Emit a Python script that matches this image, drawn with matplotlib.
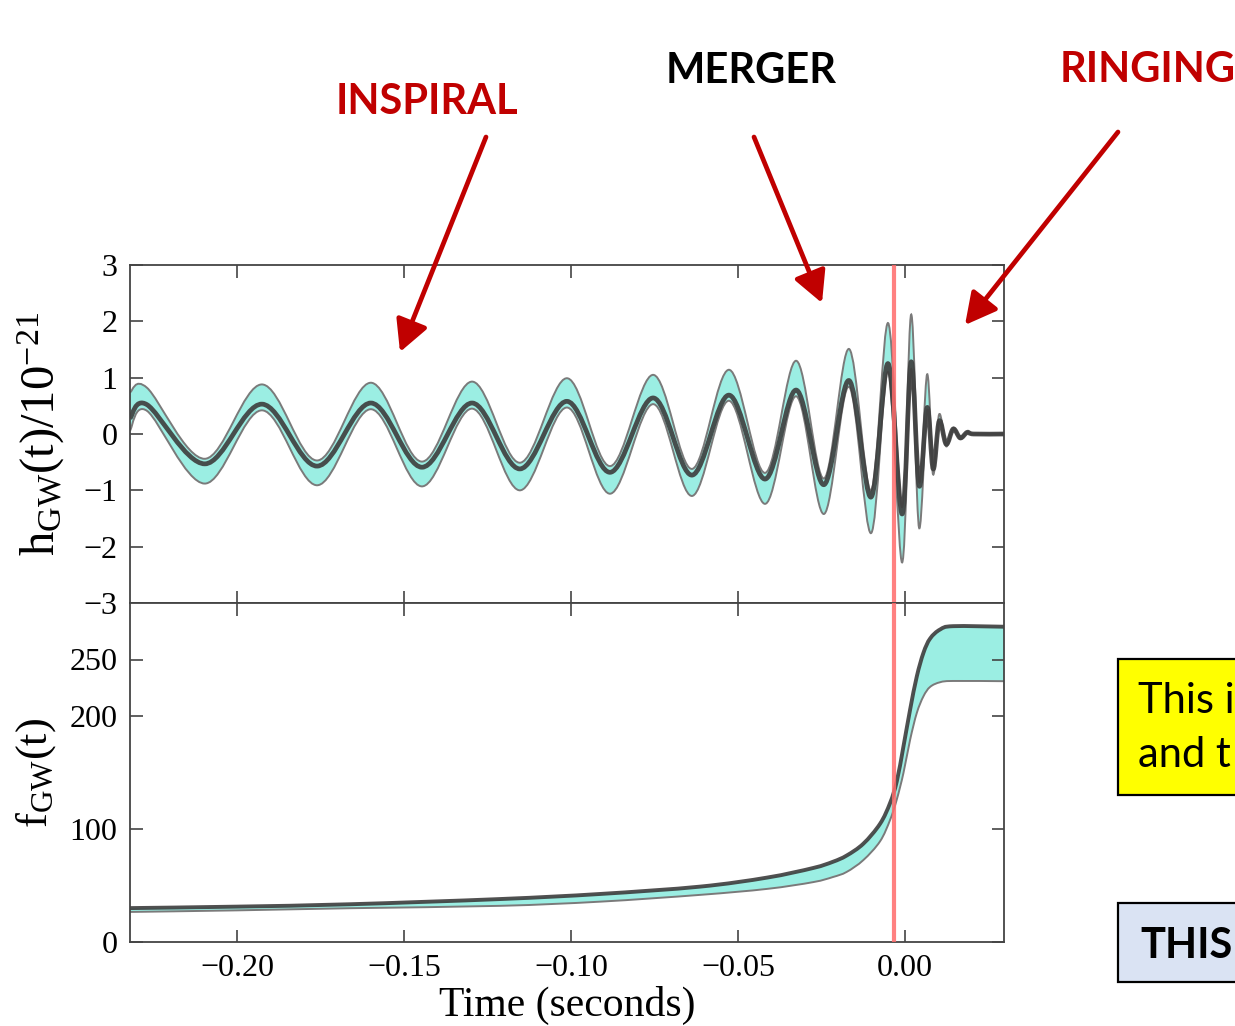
import matplotlib
matplotlib.use("Agg")
import matplotlib.pyplot as plt
from matplotlib.patches import FancyArrowPatch, Rectangle, PathPatch
from matplotlib.path import Path

plt.rcParams['font.family'] = ['Liberation Serif', 'DejaVu Serif']
plt.rcParams['mathtext.fontset'] = 'custom'
plt.rcParams['mathtext.rm'] = 'Liberation Serif'
plt.rcParams['mathtext.it'] = 'Liberation Serif:italic'

# strain h(t) / 1e-21: peaks and troughs
# (median line, lower and upper edge of the band)
t_h = [-0.2320, -0.2269, -0.2096, -0.1925, -0.1760, -0.1599, -0.1446, -0.1296, -0.1153, -0.1012,
       -0.0883, -0.0754, -0.0638, -0.0527, -0.0419, -0.0326, -0.0243, -0.0168, -0.0102, -0.0051,
       -0.0009, 0.0018, 0.0042, 0.0066, 0.0084, 0.0102, 0.0123, 0.0144, 0.0165, 0.0186,
       0.0205, 0.0296]
h_mid = [0.28, 0.52, -0.53, 0.53, -0.57, 0.55, -0.59, 0.55, -0.62, 0.58,
         -0.68, 0.64, -0.73, 0.69, -0.80, 0.78, -0.90, 0.95, -1.12, 1.25,
         -1.42, 1.28, -0.92, 0.47, -0.62, 0.23, -0.18, 0.09, -0.07, 0.03,
         0.00, 0.00]
h_lo = [0.06, 0.41, -0.88, 0.42, -0.91, 0.44, -0.93, 0.45, -1.00, 0.47,
        -1.06, 0.53, -1.10, 0.59, -1.24, 0.67, -1.42, 0.84, -1.76, 1.10,
        -2.28, 1.15, -1.67, 0.42, -0.72, 0.20, -0.22, 0.07, -0.09, 0.02,
        -0.01, -0.01]
h_hi = [0.74, 0.82, -0.44, 0.88, -0.47, 0.91, -0.49, 0.93, -0.51, 0.99,
        -0.57, 1.05, -0.62, 1.14, -0.69, 1.30, -0.79, 1.51, -1.00, 1.97,
        -1.30, 2.12, -0.85, 1.06, -0.58, 0.35, -0.16, 0.11, -0.05, 0.04,
        0.01, 0.01]

# gravitational-wave frequency (Hz): median (top edge of band) and lower edge
t_f = [-0.2320, -0.2000, -0.1662, -0.1213, -0.0913, -0.0614, -0.0413, -0.0275, -0.0216, -0.0175,
       -0.0125, -0.0075, -0.0045, -0.0025, -0.0005, 0.0015, 0.0035, 0.0055, 0.0075, 0.0105,
       0.0144, 0.0296]
f_mid = [30.0, 31.3, 33.4, 38.0, 42.5, 49.0, 57.0, 65.5, 71.0, 76.5,
         87.0, 104.6, 123.0, 142.0, 173.0, 205.7, 235.0, 256.0, 268.6, 276.6,
         279.5, 279.0]
f_lo = [26.6, 28.0, 29.9, 32.0, 35.7, 41.7, 47.0, 53.0, 57.5, 62.0,
        72.5, 89.1, 108.0, 126.0, 149.5, 179.0, 202.7, 217.5, 225.8, 229.9,
        231.0, 230.8]

t_peak = -0.0033
x_ticks = [-0.20, -0.15, -0.10, -0.05, 0.00]
h_ticks = [-3, -2, -1, 0, 1, 2, 3]
f_ticks = [0, 100, 200, 250]

band_col = '#9beee3'
edge_col = '#7a7a7a'
line_col = '#3d3d3d'
red = '#c00000'


def smooth_verts(x, y):
    # bezier control points (catmull-rom) so the line passes smoothly through the read points
    n = len(x)
    verts = [(x[0], y[0])]
    for i in range(n - 1):
        xa, ya = (x[i - 1], y[i - 1]) if i > 0 else (x[i], y[i])
        xb, yb = (x[i + 2], y[i + 2]) if i + 2 < n else (x[i + 1], y[i + 1])
        verts.append((x[i] + (x[i + 1] - xa) / 6, y[i] + (y[i + 1] - ya) / 6))
        verts.append((x[i + 1] - (xb - x[i]) / 6, y[i + 1] - (yb - y[i]) / 6))
        verts.append((x[i + 1], y[i + 1]))
    return verts


def curve(ax, x, y, **kw):
    v = smooth_verts(x, y)
    codes = [Path.MOVETO] + [Path.CURVE4] * (len(v) - 1)
    ax.add_patch(PathPatch(Path(v, codes), fill=False, capstyle='butt', **kw))


def band(ax, x, lo, hi, **kw):
    up = smooth_verts(x, hi)
    dn = smooth_verts(x, lo)[::-1]
    v = up + dn + [up[0]]
    codes = ([Path.MOVETO] + [Path.CURVE4] * (len(up) - 1) +
             [Path.LINETO] + [Path.CURVE4] * (len(dn) - 1) + [Path.CLOSEPOLY])
    ax.add_patch(PathPatch(Path(v, codes), lw=0, **kw))


W, H = 1235, 1026
fig = plt.figure(figsize=(W / 100, H / 100), dpi=100)
ax1 = fig.add_axes([130 / W, 1 - 603 / H, 874 / W, 338 / H])
ax2 = fig.add_axes([130 / W, 1 - 942 / H, 874 / W, 339 / H], sharex=ax1)

band(ax1, t_h, h_lo, h_hi, facecolor=band_col)
curve(ax1, t_h, h_lo, edgecolor=edge_col, lw=1.4)
curve(ax1, t_h, h_hi, edgecolor=edge_col, lw=1.4)
curve(ax1, t_h, h_mid, edgecolor=line_col, lw=3.4, alpha=0.9, joinstyle='round')

band(ax2, t_f, f_lo, f_mid, facecolor=band_col)
curve(ax2, t_f, f_lo, edgecolor=edge_col, lw=1.4)
curve(ax2, t_f, f_mid, edgecolor=line_col, lw=2.8, alpha=0.9)

for ax in (ax1, ax2):
    ax.axvline(t_peak, color='#ff6b6b', lw=3, alpha=0.85, zorder=5)
    ax.tick_params(direction='in', top=True, right=True, length=9, width=1.2,
                   color='#444444', labelsize=23, pad=9)
    for s in ax.spines.values():
        s.set_color('#444444')
        s.set_linewidth(1.3)

ax1.set_xlim(-0.2320, 0.0296)
ax1.set_ylim(-3, 3)
ax1.set_yticks(h_ticks)
ax1.set_yticklabels(['\u22123', '\u22122', '\u22121', '0', '1', '2', '3'])
ax1.tick_params(labelbottom=False)
ax2.set_ylim(0, 300)
ax2.set_yticks(f_ticks)
ax2.set_xticks(x_ticks)
ax2.set_xticklabels(['\u22120.20', '\u22120.15', '\u22120.10', '\u22120.05', '0.00'])

ax1.set_ylabel(r'$\mathrm{h_{GW}(t)/10^{-21}}$', fontsize=35)
ax1.yaxis.set_label_coords(-0.072, 0.5)
ax2.set_ylabel(r'$\mathrm{f_{GW}(t)}$', fontsize=32)
ax2.yaxis.set_label_coords(-0.082, 0.5)
ax2.set_xlabel('Time (seconds)', fontsize=30, labelpad=2)

# phase labels and arrows
lab = dict(family=['Lato', 'DejaVu Sans'], fontweight='bold', fontsize=30, va='baseline')
fig.text(427 / W, 1 - 114 / H, 'INSPIRAL', color=red, ha='center', **lab)
fig.text(751 / W, 1 - 83 / H, 'MERGER', color='black', ha='center', **lab)
fig.text(1060 / W, 1 - 82 / H, 'RINGING', color=red, ha='left', **lab)

arrows = [((486, 137), (400, 352)), ((754, 137), (822, 303)), ((1118, 132), (965, 325))]
for (x0, y0), (x1, y1) in arrows:
    fig.add_artist(FancyArrowPatch((x0 / W, 1 - y0 / H), (x1 / W, 1 - y1 / H),
                                   transform=fig.transFigure,
                                   arrowstyle='-|>,head_length=0.95,head_width=0.5',
                                   mutation_scale=20, color=red, lw=3.4,
                                   shrinkA=0, shrinkB=0))

# boxes cut off at the right edge
fig.add_artist(Rectangle((1118 / W, 1 - 795 / H), 0.2, 136 / H, transform=fig.transFigure,
                         facecolor='#ffff00', edgecolor='black', lw=1.6))
fig.add_artist(Rectangle((1118 / W, 1 - 982 / H), 0.2, 79 / H, transform=fig.transFigure,
                         facecolor='#dae3f3', edgecolor='black', lw=1.6))
box = dict(family=['Lato', 'DejaVu Sans'], fontsize=30, va='baseline', ha='left', color='black')
fig.text(1138 / W, 1 - 713 / H, 'This i', **box)
fig.text(1138 / W, 1 - 767 / H, 'and t', **box)
fig.text(1140 / W, 1 - 958 / H, 'THIS', fontweight='bold', **box)

fig.savefig('out.png', dpi=100)
